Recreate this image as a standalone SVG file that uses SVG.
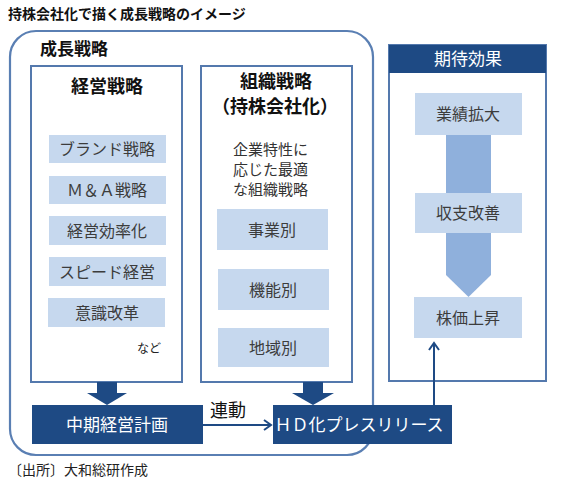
<svg xmlns="http://www.w3.org/2000/svg" width="562" height="487" viewBox="0 0 562 487">
<defs>
<style>
text{font-family:"Noto Sans CJK JP","Noto Sans",sans-serif;}
.frame{fill:#fff;stroke:#5a7fb3;stroke-width:2.2;}
.box{fill:#fff;stroke:#5479ad;stroke-width:2;}
.chip{fill:#c6d8ee;}
.chipt{font-size:16px;fill:#3c3c3c;text-anchor:middle;}
.dark{fill:#1e4a84;}
.wt{fill:#fff;text-anchor:middle;font-size:17px;}
.hd{font-size:18px;font-weight:bold;fill:#111;text-anchor:middle;}
.ln{fill:none;stroke:#1e4a84;stroke-width:2;}
</style>
<marker id="chev" markerWidth="12" markerHeight="12" refX="9" refY="6" orient="auto" markerUnits="userSpaceOnUse">
<path d="M2,1 L9,6 L2,11" fill="none" stroke="#1e4a84" stroke-width="2"/>
</marker>
</defs>
<rect width="562" height="487" fill="#fff"/>
<text x="8" y="19" font-size="14" font-weight="bold" fill="#111">持株会社化で描く成長戦略のイメージ</text>

<g id="growth">
<rect class="frame" x="10" y="31" width="363" height="424" rx="26"/>
<text x="40" y="55" font-size="17" font-weight="bold" fill="#111">成長戦略</text>
</g>

<g id="mgmt">
<rect class="box" x="31" y="66" width="151" height="316"/>
<text class="hd" x="107" y="93">経営戦略</text>
<rect class="chip" x="49" y="135" width="117" height="28"/>
<text class="chipt" x="107" y="155">ブランド戦略</text>
<rect class="chip" x="49" y="176" width="117" height="28"/>
<text class="chipt" x="107" y="196">Ｍ＆Ａ戦略</text>
<rect class="chip" x="49" y="216" width="117" height="29"/>
<text class="chipt" x="107" y="237">経営効率化</text>
<rect class="chip" x="49" y="257" width="117" height="29"/>
<text class="chipt" x="107" y="278">スピード経営</text>
<rect class="chip" x="48" y="298" width="117" height="29"/>
<text class="chipt" x="107" y="319">意識改革</text>
<text x="149" y="353" font-size="12" fill="#222" text-anchor="middle">など</text>
</g>

<g id="org">
<rect class="box" x="201" y="66" width="151" height="316"/>
<text class="hd" x="276" y="88" font-size="17">組織戦略</text>
<text class="hd" x="275" y="113" font-size="17">（持株会社化）</text>
<text x="233" y="155" font-size="15" fill="#333">企業特性に</text>
<text x="233" y="175" font-size="15" fill="#333">応じた最適</text>
<text x="233" y="195" font-size="15" fill="#333">な組織戦略</text>
<rect class="chip" x="217" y="209" width="111" height="41"/>
<text class="chipt" x="272" y="236" font-size="17">事業別</text>
<rect class="chip" x="218" y="269" width="111" height="41"/>
<text class="chipt" x="273" y="296" font-size="17">機能別</text>
<rect class="chip" x="218" y="328" width="111" height="39"/>
<text class="chipt" x="273" y="354" font-size="17">地域別</text>
</g>

<g id="effect">
<rect class="box" x="389" y="45" width="157" height="336"/>
<rect class="dark" x="389" y="45" width="157" height="28"/>
<text class="wt" x="468" y="65" font-size="18">期待効果</text>
<path d="M446,130 H491 V275 L468.5,297 L446,275 Z" fill="#8fb0dc"/>
<rect class="chip" x="415" y="93" width="107" height="42"/>
<text class="chipt" x="468" y="120" font-size="18">業績拡大</text>
<rect class="chip" x="415" y="193" width="107" height="40"/>
<text class="chipt" x="468" y="219" font-size="18">収支改善</text>
<rect class="chip" x="414" y="297" width="108" height="41"/>
<text class="chipt" x="468" y="324" font-size="18">株価上昇</text>
</g>

<g id="plan">
<rect class="dark" x="32" y="405" width="171" height="39"/>
<text class="wt" x="117" y="431" font-size="18">中期経営計画</text>
</g>

<g id="release">
<rect class="dark" x="273" y="405" width="179" height="39"/>
<text class="wt" x="359" y="431" font-size="16">ＨＤ化プレスリリース</text>
</g>

<g id="connectors">
<path d="M97,382 H117 V393 H127 L107,405 L87,393 H97 Z" fill="#1e4a84"/>
<path d="M303,382 H323 V393 H334 L313,405 L292,393 H303 Z" fill="#1e4a84"/>
<line class="ln" x1="203" y1="425" x2="271" y2="425" marker-end="url(#chev)"/>
<text x="210" y="417" font-size="18" fill="#111">連動</text>
<line class="ln" x1="434" y1="405" x2="434" y2="343" marker-end="url(#chev)"/>
</g>

<text x="8" y="475" font-size="14" fill="#222">〔出所〕大和総研作成</text>
</svg>
